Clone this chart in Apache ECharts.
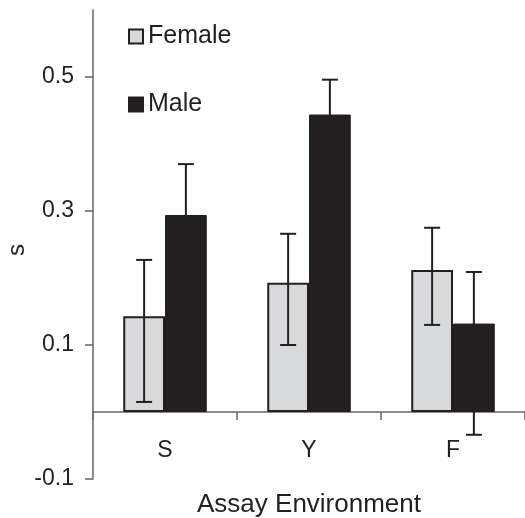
<!DOCTYPE html>
<html lang="en">
<head>
    <meta charset="UTF-8">
    <title>Assay Environment</title>
    <script src="https://cdn.jsdelivr.net/npm/echarts@6/dist/echarts.min.js"></script>
    <style>
      body { margin: 0; background: #fff; }
      #main { width: 525px; height: 518px; }
    </style>
</head>
<body>
    <div id="main"></div>
    <script>
      const categories = ["S", "Y", "F"];
      const femaleMean = [0.143, 0.193, 0.212];
      const femaleLow = [0.015, 0.100, 0.130];
      const femaleHigh = [0.227, 0.266, 0.275];
      const maleMean = [0.294, 0.444, 0.132];
      const maleLow = [0.218, 0.392, -0.034];
      const maleHigh = [0.370, 0.496, 0.209];
      const yTicks = [-0.1, 0.1, 0.3, 0.5];

      const dark = "#231f20";
      const barGapPct = 0.42;

      var myChart = echarts.init(document.getElementById("main"));

      // error bars, side = -1 for female (left bar), 1 for male (right bar)
      function errorBars(side) {
        return function (params, api) {
          var idx = api.value(0);
          var hi = api.coord([idx, api.value(2)]);
          var lo = api.coord([idx, api.value(1)]);
          var bw = api.size([1, 0])[0] * (1 - barGapPct) / 2;
          var x = hi[0] + side * bw / 2;
          var cap = 8;
          var st = { stroke: dark, lineWidth: 2 };
          return {
            type: "group",
            children: [
              { type: "line", shape: { x1: x, y1: hi[1], x2: x, y2: lo[1] }, style: st },
              { type: "line", shape: { x1: x - cap, y1: hi[1], x2: x + cap, y2: hi[1] }, style: st },
              { type: "line", shape: { x1: x - cap, y1: lo[1], x2: x + cap, y2: lo[1] }, style: st }
            ]
          };
        };
      }

      var option = {
        animation: false,
        textStyle: { fontFamily: "Liberation Sans, Arial, sans-serif" },
        grid: { left: 93, right: 0, top: 10, bottom: 39, containLabel: false, outerBoundsMode: "none" },
        legend: {
          data: ["Female", "Male"],
          orient: "vertical",
          left: 128,
          top: 24,
          padding: 0,
          itemWidth: 14,
          itemHeight: 14,
          itemGap: 43,
          icon: "rect",
          textStyle: { fontSize: 25, color: dark }
        },
        xAxis: {
          type: "category",
          data: categories,
          name: "Assay Environment",
          nameLocation: "middle",
          nameGap: 13,
          nameTextStyle: { fontSize: 26, color: dark },
          axisLine: { onZero: true, lineStyle: { color: "#666", width: 1.5 } },
          axisTick: { show: true, length: 8, lineStyle: { color: "#666", width: 1.5 } },
          axisLabel: { fontSize: 23, color: dark, margin: -40 }
        },
        yAxis: {
          type: "value",
          min: -0.1,
          max: 0.6,
          name: "s",
          nameLocation: "middle",
          nameGap: 64,
          nameMoveOverlap: false,
          nameTextStyle: { fontSize: 24, color: dark, padding: [0, 11, 0, 0] },
          splitLine: { show: false },
          axisLine: { show: true, lineStyle: { color: "#666", width: 1.5 } },
          axisTick: { show: true, length: 8, customValues: yTicks, lineStyle: { color: "#666", width: 1.5 } },
          axisLabel: {
            fontSize: 23,
            color: dark,
            margin: 19,
            customValues: yTicks,
            formatter: function (v) { return v.toFixed(1); }
          }
        },
        series: [
          {
            name: "Female",
            type: "bar",
            data: femaleMean,
            barGap: "0%",
            barCategoryGap: barGapPct * 100 + "%",
            itemStyle: { color: "#d8d9da", borderColor: dark, borderWidth: 2 }
          },
          {
            name: "Male",
            type: "bar",
            data: maleMean,
            itemStyle: { color: dark, borderColor: dark, borderWidth: 1 }
          },
          {
            type: "custom",
            renderItem: errorBars(-1),
            data: categories.map(function (c, i) { return [i, femaleLow[i], femaleHigh[i]]; }),
            z: 5
          },
          {
            type: "custom",
            renderItem: errorBars(1),
            data: categories.map(function (c, i) { return [i, maleLow[i], maleHigh[i]]; }),
            z: 5
          }
        ]
      };
      option && myChart.setOption(option);
    </script>
</body>
</html>
